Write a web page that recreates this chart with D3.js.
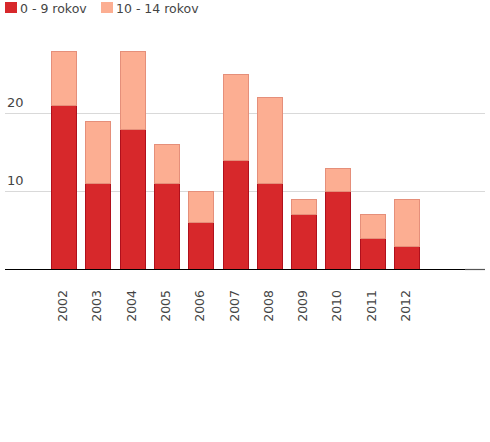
<!DOCTYPE html>
<html>
<head>
<meta charset="utf-8">
<script src="https://cdn.jsdelivr.net/npm/d3@7"></script>
<style>
  body { margin: 0; background: #fff; }
  svg { font-family: "DejaVu Sans", sans-serif; }
</style>
</head>
<body>
<svg id="chart" width="490" height="442"></svg>
<script>
const years = ["2002", "2003", "2004", "2005", "2006", "2007", "2008", "2009", "2010", "2011", "2012"];
const age0to9 = [21, 11, 18, 11, 6, 14, 11, 7, 10, 4, 3];
const age10to14 = [7, 8, 10, 5, 4, 11, 11, 2, 3, 3, 6];
const seriesNames = ["0 - 9 rokov", "10 - 14 rokov"];
const yTicks = [10, 20];

const fills = ["#d7282b", "#fcae92"];
const strokes = ["#b0101c", "#e58f7a"];

const svg = d3.select("#chart");
const left = 5, right = 485, baseY = 269;

const rows = years.map((y, i) => ({ year: y, a: age0to9[i], b: age10to14[i] }));
const stacked = d3.stack().keys(["a", "b"])(rows);

const x = d3.scaleBand()
    .domain(years)
    .range([46.9, 424.2])
    .paddingInner(0.24)
    .paddingOuter(0.12);

const y = d3.scaleLinear()
    .domain([0, 10])
    .range([baseY, baseY - 78]);

// grid lines + labels
const grid = svg.append("g");
grid.selectAll("line")
    .data(yTicks)
    .enter().append("line")
    .attr("x1", left).attr("x2", right)
    .attr("y1", d => Math.round(y(d)) + 0.5)
    .attr("y2", d => Math.round(y(d)) + 0.5)
    .attr("stroke", "#d9d9d9");
grid.selectAll("text")
    .data(yTicks)
    .enter().append("text")
    .attr("x", 7)
    .attr("y", d => y(d) - 6)
    .attr("fill", "#444")
    .style("font-size", "13px")
    .text(d => d);

// bars
svg.selectAll(".series")
    .data(stacked)
    .enter().append("g")
    .attr("class", "series")
    .attr("fill", (d, i) => fills[i])
    .attr("stroke", (d, i) => strokes[i])
    .selectAll("rect")
    .data(d => d)
    .enter().append("rect")
    .attr("x", d => Math.round(x(d.data.year)) + 0.5)
    .attr("y", d => Math.round(y(d[1])) + 0.5)
    .attr("width", Math.round(x.bandwidth()) - 1)
    .attr("height", d => Math.round(y(d[0])) - Math.round(y(d[1])));

// baseline
svg.append("line")
    .attr("x1", left).attr("x2", 465)
    .attr("y1", baseY + 0.5).attr("y2", baseY + 0.5)
    .attr("stroke", "#000").attr("stroke-width", 1.2);
svg.append("line")
    .attr("x1", 465).attr("x2", right)
    .attr("y1", baseY + 0.5).attr("y2", baseY + 0.5)
    .attr("stroke", "#555").attr("stroke-width", 1.2);

// x labels
svg.append("g")
    .selectAll("text")
    .data(years)
    .enter().append("text")
    .attr("transform", d => `translate(${x(d) + x.bandwidth() / 2 + 3},290) rotate(-90)`)
    .attr("text-anchor", "end")
    .attr("fill", "#444")
    .style("font-size", "12.5px")
    .text(d => d);

// legend
const legend = svg.append("g");
const legendX = [5, 101];
seriesNames.forEach((name, i) => {
  legend.append("rect")
      .attr("x", legendX[i]).attr("y", 2)
      .attr("width", 12).attr("height", 11)
      .attr("fill", fills[i]);
  legend.append("text")
      .attr("x", legendX[i] + 15).attr("y", 12.5)
      .attr("fill", "#444")
      .style("font-size", "12.5px")
      .text(name);
});
</script>
</body>
</html>
